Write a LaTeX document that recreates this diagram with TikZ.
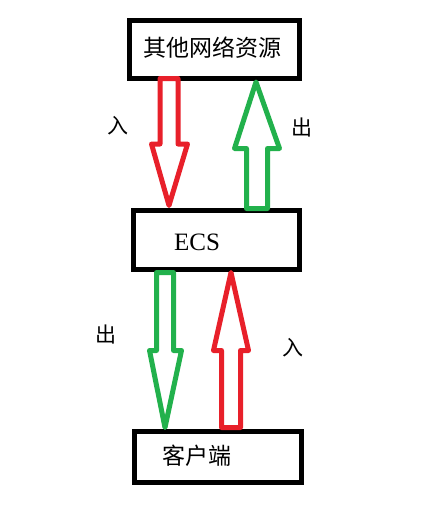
\documentclass[tikz,border=0pt]{standalone}
\usepackage{fontspec}
\setmainfont{Liberation Serif}
\newfontfamily\cjk{Noto Sans CJK SC}
\definecolor{paintred}{HTML}{E8202A}
\definecolor{paintgreen}{HTML}{22B14C}
\begin{document}
\begin{tikzpicture}[x=1pt,y=-1pt,
  box/.style={draw=black,line width=5pt,minimum width=#1,inner sep=0pt,outer sep=0pt},
  boxtext/.style={font=\cjk\fontsize{23}{26}\selectfont,inner sep=0pt},
  sidelabel/.style={font=\cjk\fontsize{21}{24}\selectfont,inner sep=0pt},
  redblock/.style={draw=paintred,line width=5pt,line join=round,fill=white},
  greenblock/.style={draw=paintgreen,line width=5pt,line join=round,fill=white}]
\useasboundingbox[fill=white] (0,0) rectangle (431,507);
% boxes
\node[box=170pt,minimum height=58pt] (res) at (214.5,49.5) {};
\node[box=166pt,minimum height=59pt] (ecs) at (216.5,240) {};
\node[box=167pt,minimum height=51pt] (cli) at (218,457) {};
\node[boxtext] (restext) at (212,48) {其他网络资源};
\node[font=\fontsize{25}{28}\selectfont,inner sep=0pt] (ecstext) at (197,242) {ECS};
\node[boxtext] (clitext) at (197,455.5) {客户端};
% top: red down (in), green up (out)
\draw[redblock] (160,78.5) -- (178,78.5) -- (178,144) -- (187.5,144) -- (169,205.5)
  -- (151.5,144) -- (160,144) -- cycle;
\draw[greenblock] (256,82) -- (279.5,148.5) -- (267.5,148.5) -- (267.5,208.5)
  -- (246.5,208.5) -- (246.5,148.5) -- (234.5,148.5) -- cycle;
% bottom: green down (out), red up (in)
\draw[greenblock] (156.5,272.5) -- (173.5,272.5) -- (173.5,350.5) -- (181.5,350.5)
  -- (165,427.5) -- (149.5,350.5) -- (156.5,350.5) -- cycle;
\draw[redblock] (231,272.5) -- (248.5,350.5) -- (240.5,350.5) -- (240.5,427.5)
  -- (221.5,427.5) -- (221.5,350.5) -- (213.5,350.5) -- cycle;
% labels
\node[sidelabel] (in1) at (118,126) {入};
\node[sidelabel] (out1) at (302,128) {出};
\node[sidelabel] (out2) at (106,335) {出};
\node[sidelabel] (in2) at (293,348) {入};
\end{tikzpicture}
\end{document}
